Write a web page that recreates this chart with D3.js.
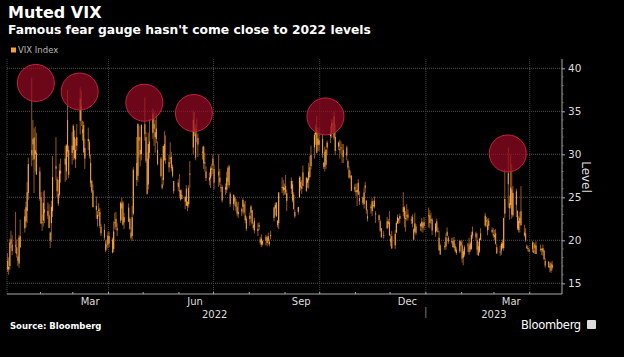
<!DOCTYPE html>
<html><head><meta charset="utf-8">
<script src="https://cdn.jsdelivr.net/npm/d3@7"></script>
<style>body{margin:0;background:#000;}svg{display:block;}</style>
</head><body>
<svg id="c" width="624" height="357"></svg>
<script>
// Trading calendar (NYSE holidays skipped)
const startDate = "2022-01-03";
const endDate = "2023-04-20";
const holidays = ["2022-01-17","2022-02-21","2022-04-15","2022-05-30","2022-06-20","2022-07-04","2022-09-05","2022-11-24","2022-12-26","2023-01-02","2023-01-16","2023-02-20","2023-04-07"];
// VIX daily OHLC
const open = [
17.6,16.6,17.0,20.1,19.5,19.4,19.2,18.1,17.3,20.5,21.4,22.2,23.4,25.5,30.5,31.8,29.4,30.0,30.2,28.0,
25.0,22.1,22.3,23.6,23.4,22.9,20.9,22.0,23.4,28.6,27.1,25.4,25.3,28.1,29.5,28.0,34.0,30.5,31.0,
30.5,32.0,29.4,31.0,33.9,35.6,32.9,33.4,29.5,31.5,31.4,29.0,26.9,25.8,24.0,22.5,23.4,23.3,21.6,21.2,19.6,19.4,19.5,
20.5,20.1,19.0,22.0,22.5,21.4,22.3,23.7,24.4,22.1,23.8,22.5,20.9,20.5,23.1,29.0,27.5,32.0,30.5,30.0,
33.5,32.0,29.5,26.5,31.5,32.5,33.5,32.0,33.0,30.5,29.5,26.5,27.0,31.2,29.5,29.1,29.6,29.7,28.5,26.9,26.7,
25.8,25.8,25.3,24.5,26.0,24.5,24.2,27.7,30.8,33.1,32.4,32.9,31.9,30.3,30.9,29.0,28.0,27.3,27.2,28.4,29.5,
28.3,28.0,27.3,26.2,26.2,25.9,25.9,28.4,28.6,25.4,24.2,25.0,24.5,23.9,23.3,23.6,23.9,24.2,22.9,22.5,
22.5,23.2,23.5,21.8,22.3,21.1,21.6,20.1,19.5,19.9,20.4,20.3,20.5,19.8,20.6,22.6,23.7,24.4,22.3,22.0,26.2,25.8,26.1,
26.3,24.6,26.0,26.5,25.3,23.3,23.3,25.0,26.8,26.0,27.9,27.3,26.7,27.0,28.5,28.6,30.8,32.3,33.1,31.1,31.1,
31.8,29.0,30.3,28.8,30.8,32.1,32.5,33.5,34.4,30.4,30.9,30.6,30.8,30.1,30.5,30.8,29.2,28.2,27.5,27.5,26.2,
25.6,25.6,26.7,24.9,25.0,24.2,26.4,24.6,22.8,23.9,23.4,24.1,24.6,23.1,22.9,22.2,21.4,20.6,21.4,22.2,22.1,
20.2,20.5,19.4,20.9,22.0,22.5,22.5,23.3,23.8,22.5,22.9,23.0,22.4,22.7,21.3,21.0,21.6,21.9,21.6,22.0,22.1,
22.9,22.9,22.3,22.4,20.9,22.2,21.1,20.3,19.4,19.2,19.3,21.0,20.3,19.9,19.9,20.0,19.3,18.9,18.7,19.8,
19.4,18.0,19.2,19.5,19.4,18.9,19.0,21.0,20.8,20.0,19.3,18.7,20.8,21.7,22.3,21.8,22.3,21.2,20.6,
20.4,20.8,19.2,18.7,18.8,19.7,19.1,23.1,27.8,24.3,24.1,25.9,22.9,25.7,23.4,21.2,22.0,23.4,20.9,20.8,19.3,19.1,18.9,
19.7,18.8,19.5,19.4,19.0,18.9,18.7,18.8,17.6,17.5,17.0,17.3,16.8];
const high = [
18.5,18.0,20.2,21.1,20.6,23.3,20.1,18.4,20.6,22.4,23.6,24.5,26.8,29.6,38.9,34.0,33.0,33.2,32.5,28.5,
25.6,23.0,25.7,25.8,24.4,24.2,21.0,24.6,29.8,32.0,27.4,27.0,28.9,29.5,31.0,31.2,37.5,31.0,32.6,
33.5,32.8,31.8,33.5,37.8,37.4,33.9,33.8,31.8,33.1,31.7,30.0,27.0,26.5,25.1,23.4,24.3,23.8,21.9,21.9,20.0,20.1,21.0,
21.0,20.3,22.2,23.2,23.3,22.0,24.5,25.0,24.6,23.2,24.3,22.7,21.5,24.0,28.5,32.0,33.6,33.3,32.0,33.5,
36.6,32.6,30.2,32.5,34.1,35.3,35.0,34.0,34.8,31.5,29.7,27.3,31.0,32.7,32.2,29.9,31.4,30.3,28.8,26.9,27.1,
27.7,25.9,25.9,25.1,26.4,24.5,26.4,29.2,35.1,34.9,33.5,34.2,32.4,30.9,31.0,30.2,28.6,27.9,28.6,28.9,30.0,
28.8,30.0,28.3,26.6,26.4,26.6,28.0,28.6,28.8,25.6,25.3,25.1,24.8,24.4,24.5,23.8,24.9,24.4,24.6,22.8,
23.2,24.1,23.5,22.1,22.6,22.0,22.1,20.4,20.7,20.0,20.6,20.5,20.9,20.1,21.1,23.9,24.4,24.4,22.3,25.6,27.3,27.0,26.6,
27.6,25.9,27.3,26.9,25.6,23.6,23.9,27.5,27.4,27.0,28.7,27.3,27.3,29.0,29.8,31.0,32.5,33.4,34.5,32.8,33.1,
32.3,29.1,30.9,30.6,31.6,33.3,34.1,34.0,34.9,33.5,31.5,31.7,31.5,31.2,31.2,31.0,29.4,28.6,28.1,27.6,26.5,
26.6,26.6,27.1,25.7,25.1,26.1,26.8,24.7,23.6,24.2,24.9,24.6,25.1,23.4,23.0,22.4,21.4,21.1,22.7,22.5,23.4,
20.7,21.1,21.2,22.2,23.0,22.6,23.1,25.6,24.0,23.4,24.2,23.6,22.8,23.0,21.4,23.2,21.9,22.0,22.6,22.2,22.7,
23.8,23.5,23.2,22.6,21.6,22.5,21.5,21.1,19.6,19.8,20.8,21.5,20.5,20.3,20.3,20.4,19.6,19.2,20.0,20.0,
20.0,19.0,19.4,19.7,20.3,19.8,21.0,21.6,21.0,20.8,19.8,20.3,21.4,23.2,22.7,22.5,22.6,21.5,21.4,
21.2,21.3,19.6,19.4,19.8,20.1,22.6,28.3,30.8,25.2,29.9,28.9,26.3,26.0,23.5,22.8,23.3,26.3,21.8,21.4,19.5,19.4,19.1,
19.9,19.8,19.7,19.9,19.5,19.1,19.5,18.9,17.9,17.6,17.4,17.5,17.6];
const low = [
16.3,16.0,16.6,19.1,18.3,18.5,18.0,17.0,16.8,19.1,20.9,21.5,22.0,24.7,28.6,29.3,25.5,28.0,27.6,24.6,
21.9,21.1,21.6,22.0,22.5,21.4,19.1,19.8,22.7,27.0,25.0,24.0,25.0,26.7,26.8,27.0,29.7,27.2,28.8,
29.3,29.4,28.4,30.4,32.3,33.3,31.6,30.2,28.3,30.5,29.5,26.2,25.5,23.8,22.5,21.6,22.8,21.4,20.5,20.0,18.6,18.8,19.1,
19.2,18.5,18.6,21.3,21.2,20.5,22.0,22.3,21.7,21.3,22.1,21.2,20.1,19.9,22.9,26.3,26.8,29.6,28.6,29.3,
31.6,29.0,25.3,25.9,29.5,31.8,31.0,30.2,31.3,28.7,27.3,25.9,26.4,29.2,28.9,27.9,28.9,28.0,27.3,25.4,25.7,
24.9,24.6,24.8,23.6,24.0,23.4,23.8,26.1,30.0,32.1,29.3,31.4,29.7,29.4,28.3,28.0,26.9,26.4,26.1,27.5,27.7,
25.9,26.2,26.4,25.6,24.4,25.3,25.5,26.4,26.1,23.9,23.5,24.0,23.4,22.8,22.6,22.8,23.1,22.9,22.0,21.1,
21.7,22.1,21.8,21.2,20.8,20.5,21.2,19.5,19.2,19.4,19.4,19.3,19.5,19.3,20.1,22.2,22.9,22.7,21.5,21.3,25.5,25.2,25.3,
25.3,23.4,25.4,24.4,23.6,22.6,23.0,24.9,25.8,25.4,26.3,25.6,26.1,26.0,27.3,28.2,29.5,31.1,30.1,30.4,30.4,
29.6,28.3,28.0,28.3,29.9,31.3,31.9,32.6,31.7,29.9,30.5,29.5,30.1,29.0,29.0,29.3,28.2,27.2,27.1,25.7,25.6,
25.1,24.0,25.3,24.1,24.1,23.7,25.5,23.1,22.2,23.1,22.8,23.8,23.7,22.0,22.1,21.0,20.3,20.2,21.3,21.5,20.5,
19.3,19.0,19.0,20.8,21.9,21.9,22.0,22.8,21.5,21.0,22.3,22.3,21.9,21.5,20.0,20.8,20.6,21.1,21.0,20.9,21.2,
21.5,21.4,21.9,20.6,20.4,21.0,20.9,18.8,18.3,18.9,18.9,20.5,19.6,19.6,19.2,19.2,18.6,18.3,18.5,19.3,
17.4,17.1,18.1,18.6,18.3,18.6,18.9,20.2,20.0,18.3,18.2,18.5,20.0,21.5,21.6,20.6,21.2,20.8,20.3,
20.0,19.5,18.4,18.2,18.3,19.0,18.8,22.6,23.8,22.4,23.7,22.5,22.7,22.7,21.2,20.9,20.9,21.7,20.4,19.8,19.0,18.7,18.6,
18.6,18.5,18.4,18.4,18.7,18.3,18.2,17.7,16.8,16.8,16.3,16.2,16.5];
const close = [
16.60,16.91,19.73,19.61,18.76,19.40,18.41,17.62,20.31,19.19,22.79,23.85,25.59,28.85,29.90,31.16,31.96,30.49,27.66,24.83,
21.96,22.09,24.35,23.22,22.86,21.44,19.96,23.91,27.36,28.33,25.70,24.29,28.11,27.75,28.81,31.02,30.32,27.59,30.15,
33.32,29.57,30.48,31.98,36.45,35.13,32.45,30.23,30.75,31.77,29.83,26.67,25.67,23.87,23.53,22.94,23.57,21.67,20.81,20.31,18.90,19.33,20.56,
19.63,18.57,21.03,22.10,21.55,21.16,24.37,24.26,21.82,22.70,22.17,21.37,20.32,22.68,28.21,27.02,33.52,31.60,29.99,33.40,
32.34,29.25,25.42,31.20,30.19,34.75,32.99,32.56,31.77,28.87,27.47,26.10,30.96,29.35,29.43,28.48,29.45,28.37,27.50,25.72,26.19,
25.69,24.72,24.79,25.07,24.02,23.96,26.09,27.75,34.02,32.69,29.62,32.95,31.13,30.19,28.95,29.05,27.23,26.95,28.36,28.16,28.71,
26.70,27.54,26.73,26.08,24.64,26.17,27.29,26.82,26.40,24.23,25.30,24.50,23.88,23.11,23.03,23.36,24.69,23.24,22.33,21.33,
22.84,23.93,21.95,21.44,21.15,21.29,21.77,19.74,20.20,19.53,19.95,19.69,19.90,19.56,20.60,23.80,24.11,22.82,21.78,25.56,26.21,26.21,25.87,
25.56,25.47,26.91,24.64,23.61,22.79,23.87,27.27,26.16,26.27,26.30,25.76,27.16,27.99,27.35,29.92,32.26,32.60,30.18,31.84,31.62,
30.10,28.55,28.55,30.52,31.36,32.45,33.63,33.57,31.94,32.02,31.37,30.50,30.76,29.98,29.69,29.85,28.46,27.28,27.39,25.75,25.88,
25.81,25.86,25.30,24.55,24.35,25.54,26.09,23.53,22.52,23.73,24.54,24.11,23.93,23.12,22.36,21.13,20.35,20.50,22.21,21.89,20.58,
19.84,19.06,20.75,22.01,22.68,22.29,22.83,23.86,22.55,22.59,22.83,22.62,22.42,21.97,20.07,21.97,20.87,21.65,22.14,21.44,21.67,
22.90,22.01,22.46,21.13,21.97,21.09,21.03,18.83,18.35,19.36,20.34,20.52,19.85,19.81,19.20,19.08,18.73,18.51,19.94,19.40,
17.87,18.73,18.33,19.43,18.66,19.63,20.63,20.53,20.34,18.91,18.23,20.17,20.02,22.87,22.29,21.14,21.67,20.95,20.70,
20.58,19.59,18.49,18.60,19.59,19.11,22.61,24.80,26.52,23.73,26.14,22.99,25.51,24.12,21.38,22.26,22.61,21.74,20.60,19.97,19.12,19.08,18.70,
19.00,18.58,19.08,18.40,18.97,18.97,19.09,17.80,17.07,16.88,16.83,16.46,17.17];
// Highlighted peaks (date, level)
const peakDates = ["2022-01-28","2022-03-07","2022-05-02","2022-06-14","2022-10-06","2023-03-13"];
const peakLevels = [38.3, 37.3, 36.0, 34.8, 34.4, 30.1];
const yTicks = [15, 20, 25, 30, 35, 40];
const monthLabels = [["2022-03-16","Mar"],["2022-06-15","Jun"],["2022-09-15","Sep"],["2022-12-16","Dec"],["2023-03-16","Mar"]];
const yearLabels = [["2022-07-02","2022"],["2023-03-01","2023"]];

const parse = d3.utcParse("%Y-%m-%d");
const hol = new Set(holidays);
const days = [];
for (let d = parse(startDate); d <= parse(endDate); d = d3.utcDay.offset(d, 1)) {
  const wd = d.getUTCDay();
  if (wd === 0 || wd === 6) continue;
  if (hol.has(d3.utcFormat("%Y-%m-%d")(d))) continue;
  days.push(d);
}
const data = days.map((d, i) => ({date: d, o: open[i], h: high[i], l: low[i], c: close[i]})).filter(d => d.c != null);

const svg = d3.select("#c");
const L = 7, R = 562, T = 59, B = 294;
const x = d3.scaleUtc().domain([parse("2022-01-03"), parse("2023-04-29")]).range([L, R]);
const y = d3.scaleLinear().domain([15, 40]).range([283.3, 68.3]);

svg.append("rect").attr("width", 624).attr("height", 357).attr("fill", "#000");

// Titles
svg.append("text").attr("x", 8).attr("y", 18).text("Muted VIX")
  .attr("fill", "#fff").attr("font-family", "DejaVu Sans").attr("font-weight", "bold").attr("font-size", 16);
svg.append("text").attr("x", 8).attr("y", 34).text("Famous fear gauge hasn't come close to 2022 levels")
  .attr("fill", "#fff").attr("font-family", "DejaVu Sans").attr("font-weight", "bold").attr("font-size", 12.3);
// Legend
svg.append("rect").attr("x", 11).attr("y", 47.5).attr("width", 5).attr("height", 5).attr("fill", "#f5a236");
svg.append("text").attr("x", 18).attr("y", 53).text("VIX Index")
  .attr("fill", "#bbb").attr("font-family", "DejaVu Sans").attr("font-size", 8.5);

// Grid
const g = svg.append("g");
g.selectAll("line.hg").data(yTicks).join("line")
  .attr("x1", L).attr("x2", R).attr("y1", d => y(d)).attr("y2", d => y(d))
  .attr("stroke", "#555").attr("stroke-width", 1).attr("stroke-dasharray", "1,1");
const quarters = d3.utcMonth.every(3).range(parse("2022-02-01"), parse("2023-04-29"));
g.selectAll("line.vg").data(quarters).join("line")
  .attr("x1", d => x(d)).attr("x2", d => x(d)).attr("y1", T).attr("y2", B)
  .attr("stroke", "#444").attr("stroke-width", 1).attr("stroke-dasharray", "1,1");
g.append("line").attr("x1", L).attr("x2", L).attr("y1", T).attr("y2", B).attr("stroke", "#444").attr("stroke-dasharray","1,1");

// Candles
const cg = svg.append("g");
cg.selectAll("line.w").data(data).join("line")
  .attr("x1", d => x(d.date) + 0.5).attr("x2", d => x(d.date) + 0.5)
  .attr("y1", d => y(d.h)).attr("y2", d => y(d.l))
  .attr("stroke", "#94581a").attr("stroke-width", 1);
cg.selectAll("rect.b").data(data).join("rect")
  .attr("x", d => x(d.date)).attr("width", 1.1)
  .attr("y", d => y(Math.max(d.o, d.c)))
  .attr("height", d => Math.max(1, Math.abs(y(d.o) - y(d.c))))
  .attr("fill", d => d.c >= d.o ? "#f9ab46" : "#e69a3c");

// Peak circles
svg.append("g").selectAll("circle").data(peakDates.map((d, i) => ({date: parse(d), v: peakLevels[i]}))).join("circle")
  .attr("cx", d => x(d.date)).attr("cy", d => y(d.v)).attr("r", 18.5)
  .attr("fill", "rgba(150,10,35,0.72)").attr("stroke", "#c4223f").attr("stroke-width", 1);

// Right axis
const ya = svg.append("g").attr("transform", `translate(${R},0)`)
  .call(d3.axisRight(y).tickValues(yTicks).tickSize(3).tickPadding(3));
ya.select(".domain").attr("d", `M0,${T}V${B}`).attr("stroke", "#aaa");
ya.selectAll(".tick line").attr("stroke", "#aaa");
ya.selectAll(".tick text").attr("fill", "#ddd").attr("font-family", "DejaVu Sans").attr("font-size", 10.5);
svg.append("g").selectAll("line").data(d3.range(16, 41, 1).filter(v => v % 5)).join("line")
  .attr("x1", R).attr("x2", R + 1.5).attr("y1", d => y(d)).attr("y2", d => y(d)).attr("stroke", "#777");
svg.append("text").attr("transform", `translate(582,177) rotate(90)`).attr("text-anchor", "middle")
  .text("Level").attr("fill", "#ddd").attr("font-family", "DejaVu Sans").attr("font-size", 12);

// Bottom axis
svg.append("line").attr("x1", L).attr("x2", R).attr("y1", B).attr("y2", B).attr("stroke", "#aaa");
const months = d3.utcMonth.range(parse("2022-01-04"), parse("2023-04-29"));
svg.append("g").selectAll("line").data(months).join("line")
  .attr("x1", d => x(d)).attr("x2", d => x(d)).attr("y1", B - 2).attr("y2", B)
  .attr("stroke", "#aaa");
svg.append("g").selectAll("text").data(monthLabels).join("text")
  .attr("x", d => x(parse(d[0]))).attr("y", 305).attr("text-anchor", "middle").text(d => d[1])
  .attr("fill", "#ddd").attr("font-family", "DejaVu Sans").attr("font-size", 10);
svg.append("g").selectAll("text").data(yearLabels).join("text")
  .attr("x", d => x(parse(d[0]))).attr("y", 318).attr("text-anchor", "middle").text(d => d[1])
  .attr("fill", "#ddd").attr("font-family", "DejaVu Sans").attr("font-size", 10);
svg.append("line").attr("x1", x(parse("2023-01-01"))).attr("x2", x(parse("2023-01-01")))
  .attr("y1", 307).attr("y2", 318).attr("stroke", "#777");

// Footer
svg.append("text").attr("x", 10).attr("y", 329).text("Source: Bloomberg")
  .attr("fill", "#fff").attr("font-family", "DejaVu Sans").attr("font-weight", "bold").attr("font-size", 8.5);
svg.append("text").attr("x", 521).attr("y", 329).text("Bloomberg")
  .attr("fill", "#fff").attr("font-family", "DejaVu Sans").attr("font-size", 11.5).attr("letter-spacing", -0.3);
svg.append("rect").attr("x", 587).attr("y", 320).attr("width", 9).attr("height", 9).attr("rx", 1).attr("fill", "#ddd");
</script>
</body></html>
